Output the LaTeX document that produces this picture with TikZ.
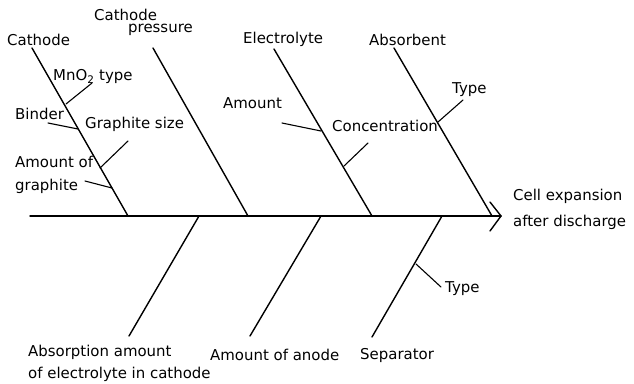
\documentclass[tikz,border=0pt]{standalone}
\usepackage{fontspec}
\setmainfont{DejaVu Sans}
\begin{document}
\begin{tikzpicture}[x=1bp,y=-1bp,
  bone/.style={line width=1.4bp, line cap=round},
  twig/.style={line width=1.1bp, line cap=round},
  lbl/.style={anchor=west, inner sep=0pt, font=\fontsize{15}{23}\selectfont, align=left}]
\useasboundingbox (0,0) rectangle (634,383);
% spine
\coordinate (s0) at (30,216);
\coordinate (s1) at (501,216);
\coordinate (ah1) at (490,202);
\coordinate (ah2) at (490,231);
\draw[bone] (s0) -- (s1);
\draw[bone, line join=miter] (ah1) -- (s1) -- (ah2);
% upper bones
\coordinate (ca1) at (32,48);   \coordinate (ca2) at (128,216);
\coordinate (cp1) at (153,48);  \coordinate (cp2) at (248,216);
\coordinate (el1) at (274,49);  \coordinate (el2) at (372,216);
\coordinate (ab1) at (394,48);  \coordinate (ab2) at (492,216);
\draw[bone] (ca1) -- (ca2);
\draw[bone] (cp1) -- (cp2);
\draw[bone] (el1) -- (el2);
\draw[bone] (ab1) -- (ab2);
% lower bones
\coordinate (ao1) at (199,216); \coordinate (ao2) at (129,336);
\coordinate (an1) at (321,216); \coordinate (an2) at (250,336);
\coordinate (se1) at (442,216); \coordinate (se2) at (372,337);
\draw[bone] (ao1) -- (ao2);
\draw[bone] (an1) -- (an2);
\draw[bone] (se1) -- (se2);
% twigs
\coordinate (mn1) at (66,104);  \coordinate (mn2) at (92,83);
\coordinate (bi1) at (48,123);  \coordinate (bi2) at (78,129);
\coordinate (gs1) at (100,168); \coordinate (gs2) at (128,141);
\coordinate (ag1) at (85,181);  \coordinate (ag2) at (112,188);
\coordinate (am1) at (282,123); \coordinate (am2) at (321,131);
\coordinate (co1) at (344,166); \coordinate (co2) at (368,143);
\coordinate (ty1) at (438,122); \coordinate (ty2) at (463,100);
\coordinate (st1) at (416,264); \coordinate (st2) at (441,287);
\draw[twig] (mn1) -- (mn2);
\draw[twig] (bi1) -- (bi2);
\draw[twig] (gs1) -- (gs2);
\draw[twig] (ag1) -- (ag2);
\draw[twig] (am1) -- (am2);
\draw[twig] (co1) -- (co2);
\draw[twig] (ty1) -- (ty2);
\draw[twig] (st1) -- (st2);
% labels
\node[lbl] (lca) at (7,40) {Cathode};
\node[lbl] (lcpa) at (94,15) {Cathode};
\node[lbl] (lcpb) at (128,30) {pressure};
\node[lbl] (lel) at (243,39) {Electrolyte};
\node[lbl] (lab) at (369,40) {Absorbent};
\node[lbl] (lmn) at (53,77) {MnO\textsubscript{2} type};
\node[lbl] (lbi) at (15,114) {Binder};
\node[lbl] (lgs) at (85,124) {Graphite size};
\node[lbl] (lag) at (15,174.5) {Amount of\\graphite};
\node[lbl] (lam) at (223,103) {Amount};
\node[lbl] (lco) at (332,126) {Concentration};
\node[lbl] (lty) at (452,90) {Type};
\node[lbl, font=\fontsize{15}{26}\selectfont] (lce) at (513,209) {Cell expansion\\after discharge};
\node[lbl, font=\fontsize{15}{22}\selectfont] (lao) at (28,363) {Absorption amount\\of electrolyte in cathode};
\node[lbl] (lan) at (210,355) {Amount of anode};
\node[lbl] (lse) at (360,355) {Separator};
\node[lbl] (lst) at (445,289) {Type};
\end{tikzpicture}
\end{document}
